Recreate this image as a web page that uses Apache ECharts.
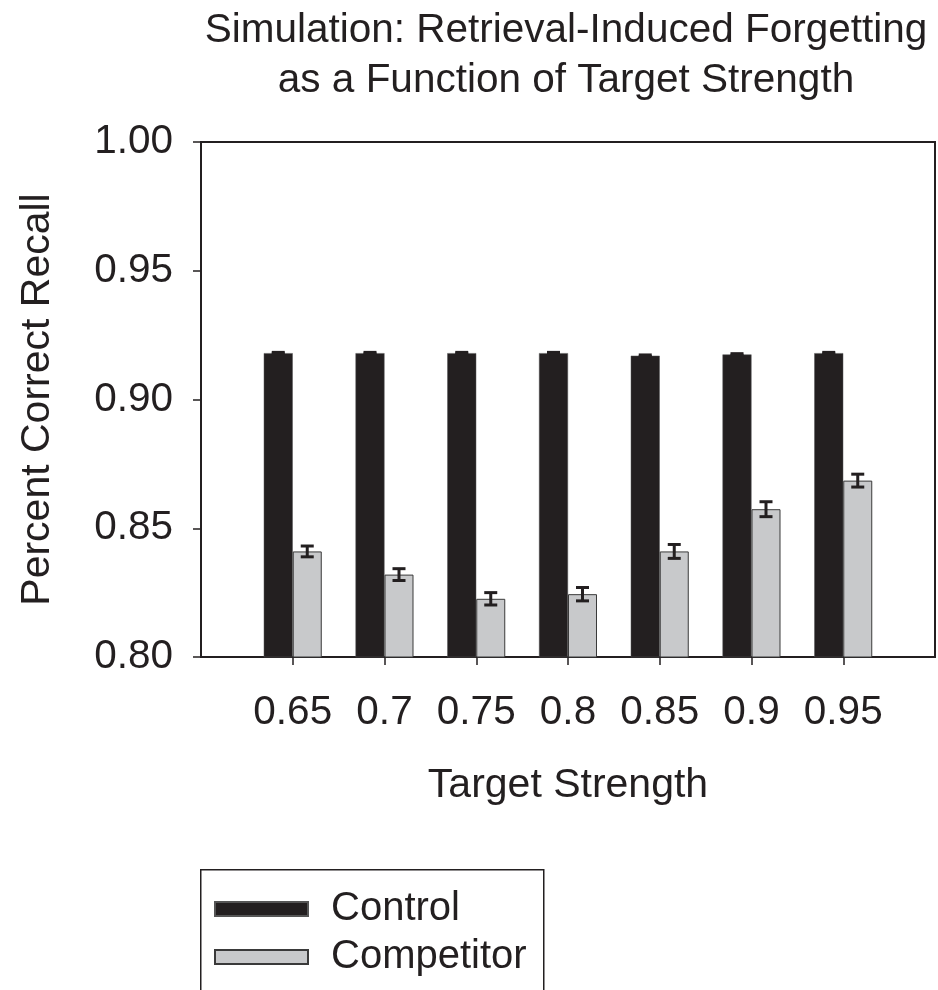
<!DOCTYPE html>
<html>
<head>
<meta charset="utf-8">
<script src="https://cdn.jsdelivr.net/npm/echarts@6/dist/echarts.min.js"></script>
<style>html,body{margin:0;padding:0;background:#fff}#c{width:938px;height:990px}</style>
</head>
<body>
<div id="c"></div>
<script>
const categories = ['0.65', '0.7', '0.75', '0.8', '0.85', '0.9', '0.95'];
const controlValues = [0.918, 0.918, 0.918, 0.918, 0.917, 0.9175, 0.918];
const controlErrors = [0.0003, 0.0003, 0.0003, 0.0003, 0.0003, 0.0003, 0.0003];
const competitorValues = [0.841, 0.832, 0.8226, 0.8244, 0.841, 0.8574, 0.8685];
const competitorErrors = [0.0021, 0.0023, 0.0024, 0.0026, 0.0027, 0.0029, 0.0025];
const yTicks = ['0.80', '0.85', '0.90', '0.95', '1.00'];

const FONT = 'Liberation Sans';
const INK = '#231f20';
const BARW = 29;

// padded axis: empty slots at both ends
const axisCats = [''].concat(categories, ['']);
const pad = arr => [null].concat(arr, [null]);

function errSeries(name, vals, errs, offset) {
  const data = vals.map((v, i) => [i + 1, v, errs[i]]);
  return {
    type: 'custom', name: name + ' err', z: 10, silent: true,
    data: data,
    encode: { x: 0, y: 1 },
    renderItem: function (params, api) {
      const xi = api.value(0), v = api.value(1), e = api.value(2);
      const hi = api.coord([xi, v + e]);
      const lo = api.coord([xi, v - e]);
      const x = hi[0] + offset;
      const cw = 6.5;
      const st = { stroke: INK, lineWidth: 3 };
      return {
        type: 'group', children: [
          { type: 'line', shape: { x1: x, y1: hi[1], x2: x, y2: lo[1] }, style: st },
          { type: 'line', shape: { x1: x - cw, y1: hi[1], x2: x + cw, y2: hi[1] }, style: st },
          { type: 'line', shape: { x1: x - cw, y1: lo[1], x2: x + cw, y2: lo[1] }, style: st }
        ]
      };
    }
  };
}

const chart = echarts.init(document.getElementById('c'), null, { renderer: 'canvas' });
chart.setOption({
  animation: false,
  backgroundColor: '#fff',
  textStyle: { fontFamily: FONT, color: INK },
  title: {
    text: 'Simulation: Retrieval-Induced Forgetting\nas a Function of Target Strength',
    left: 566, top: 6, textAlign: 'center', padding: 0,
    textStyle: { fontFamily: FONT, fontSize: 40.5, fontWeight: 'normal', color: INK, lineHeight: 50 }
  },
  graphic: [{
    type: 'rect', left: 200, top: 869, silent: true,
    shape: { width: 343, height: 200 },
    style: { fill: 'transparent', stroke: INK, lineWidth: 1.5 }
  }],
  legend: {
    orient: 'vertical', left: 214, top: 886,
    padding: 0, icon: 'rect',
    itemWidth: 93, itemHeight: 14, itemGap: 2,
    data: ['Control', 'Competitor'],
    textStyle: { fontFamily: FONT, fontSize: 40, color: INK, lineHeight: 46, padding: [0, 0, 0, 18] }
  },
  grid: {
    left: 201, top: 142, right: -2, bottom: 333,
    show: true, borderColor: INK, borderWidth: 2, backgroundColor: 'transparent'
  },
  xAxis: {
    type: 'category', data: axisCats, boundaryGap: false,
    name: 'Target Strength', nameLocation: 'middle', nameGap: 108,
    nameTextStyle: { fontFamily: FONT, fontSize: 41, color: INK },
    axisLine: { lineStyle: { color: INK, width: 2 } },
    axisTick: { length: 8, lineStyle: { color: INK, width: 1.5 },
      interval: function (i) { return i > 0 && i < axisCats.length - 1; } },
    axisLabel: { interval: 0, margin: 35, fontFamily: FONT, fontSize: 40.5, color: INK },
    splitLine: { show: false }
  },
  yAxis: {
    type: 'value', min: 0.80, max: 1.00, interval: 0.05,
    name: 'Percent Correct Recall', nameLocation: 'middle', nameGap: 143, nameRotate: 90,
    nameTextStyle: { fontFamily: FONT, fontSize: 41, color: INK },
    axisLine: { show: true, lineStyle: { color: INK, width: 2 } },
    axisTick: { show: true, length: 8, lineStyle: { color: INK, width: 1.5 } },
    axisLabel: { margin: 28, fontFamily: FONT, fontSize: 40.5, color: INK,
      formatter: function (v) { const s = v.toFixed(2); return yTicks.indexOf(s) >= 0 ? s : ''; } },
    splitLine: { show: false }
  },
  series: [
    { type: 'bar', name: 'Control', data: pad(controlValues), barWidth: BARW, barGap: '0%',
      itemStyle: { color: INK, borderColor: '#555', borderWidth: 0.5 } },
    { type: 'bar', name: 'Competitor', data: pad(competitorValues), barWidth: BARW, barGap: '0%',
      itemStyle: { color: '#c8c9cb', borderColor: '#3a3a3a', borderWidth: 1 } },
    errSeries('Control', controlValues, controlErrors, -BARW / 2),
    errSeries('Competitor', competitorValues, competitorErrors, BARW / 2)
  ]
});
</script>
</body>
</html>
